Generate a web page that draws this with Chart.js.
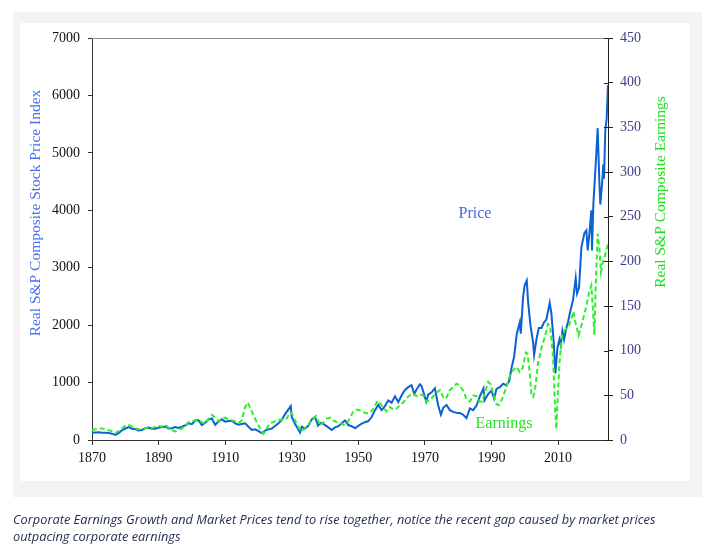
<!DOCTYPE html>
<html lang="en">
<head>
  <meta charset="UTF-8">
  <title>Real S&amp;P Composite: Price vs Earnings</title>
  <style>
    body {
      margin: 0;
      background: #ffffff;
      width: 714px;
      height: 553px;
      position: relative;
      overflow: hidden;
    }
    .panel {
      position: absolute;
      left: 13px;
      top: 12px;
      width: 689px;
      height: 485px;
      background: #f3f3f3;
    }
    .inner {
      position: absolute;
      left: 20px;
      top: 23px;
      width: 670px;
      height: 458px;
      background: #ffffff;
    }
    #chart {
      position: absolute;
      left: 0;
      top: 0;
    }
    .caption {
      position: absolute;
      left: 13px;
      top: 511px;
      width: 700px;
      font-family: "Open Sans", sans-serif;
      font-style: italic;
      font-size: 12.8px;
      line-height: 17px;
      color: #1e2b4c;
    }
  </style>
</head>
<body>
  <div class="panel"></div>
  <div class="inner"></div>
  <canvas id="chart" width="714" height="553"></canvas>
  <div class="caption">Corporate Earnings Growth and Market Prices tend to rise together, notice the recent gap caused by market prices<br>outpacing corporate earnings</div>

  <script src="https://cdn.jsdelivr.net/npm/chart.js"></script>
  <script>
    // Real S&P Composite Stock Price Index (left axis)
    const priceYears = [
      1870, 1871, 1872, 1873, 1874, 1875, 1876, 1877, 1878, 1879,
      1880, 1881, 1882, 1883, 1884, 1885, 1886, 1887, 1888, 1889,
      1890, 1891, 1892, 1893, 1894, 1895, 1896, 1897, 1898, 1899,
      1900, 1901, 1902, 1903, 1904, 1905, 1906, 1907, 1908, 1909,
      1910, 1911, 1912, 1913, 1914, 1915, 1916, 1917, 1918, 1919,
      1920, 1921, 1922, 1923, 1924, 1925, 1926, 1927, 1928, 1929.7,
      1930, 1931, 1932.5, 1933, 1934, 1935, 1936, 1937, 1937.9, 1938.5,
      1939, 1940, 1941, 1942, 1943, 1944, 1945, 1946, 1947, 1948,
      1949, 1950, 1951, 1952, 1953, 1954, 1955, 1956, 1957, 1958,
      1959, 1960, 1961, 1962, 1963, 1964, 1965, 1966, 1966.8, 1967.5,
      1968.5, 1969, 1970.4, 1971, 1972, 1973, 1974, 1974.8, 1975.5, 1976.5,
      1977.5, 1978.5, 1979.5, 1980.5, 1981.5, 1982.5, 1983.5, 1984.5, 1985.5, 1986.5,
      1987.6, 1987.9, 1989, 1990, 1990.8, 1991.5, 1992.5, 1993.5, 1994.5, 1995.3,
      1996, 1996.8, 1997.6, 1998.5, 1998.8, 1999.5, 2000, 2000.6, 2001, 2001.7,
      2002.5, 2002.8, 2003.5, 2004.2, 2005, 2005.8, 2006.5, 2007.5, 2008, 2008.7,
      2009.2, 2009.8, 2010.4, 2010.8, 2011.3, 2011.8, 2012.5, 2013, 2013.7, 2014.5,
      2015.3, 2015.7, 2016.3, 2017, 2017.9, 2018.5, 2018.9, 2019.5, 2020, 2020.2,
      2020.6, 2021, 2021.5, 2021.9, 2022.4, 2022.7, 2023.2, 2023.6, 2023.8, 2024.2,
      2024.6, 2025
    ];
    const priceValues = [
      125, 130, 135, 128, 125, 120, 110, 87, 120, 170,
      200, 225, 195, 190, 165, 175, 205, 215, 195, 195,
      215, 225, 235, 200, 205, 225, 210, 230, 255, 290,
      275, 340, 345, 260, 300, 360, 375, 265, 320, 360,
      320, 330, 335, 290, 265, 280, 290, 230, 175, 185,
      155, 120, 165, 185, 200, 245, 290, 350, 450, 590,
      400, 280, 130, 230, 200, 250, 360, 400, 250, 290,
      300, 260, 220, 175, 220, 240, 290, 340, 260, 240,
      205, 245, 285, 310, 330, 400, 520, 610, 520, 590,
      690, 650, 760, 660, 780, 870, 920, 955, 800, 880,
      970, 940, 670, 790, 830, 900, 600, 440, 560, 610,
      520, 490, 475, 470, 440, 380, 550, 520, 600, 760,
      900, 690, 800, 860, 720, 890, 920, 980, 950, 1020,
      1250, 1450, 1850, 2050, 1850, 2500, 2700, 2780, 2400, 2000,
      1700, 1480, 1750, 1950, 1950, 2050, 2100, 2390, 2200, 1700,
      1160, 1600, 1750, 1650, 1900, 1750, 1950, 2060, 2250, 2440,
      2820, 2550, 2650, 3350, 3600, 3650, 3300, 3650, 4000, 3300,
      4100, 4500, 5000, 5430, 4500, 4100, 4450, 4800, 4550, 5400,
      5600, 6180
    ];

    // Real S&P Composite Earnings (right axis)
    const earnYears = [
      1870, 1871, 1872, 1873, 1874, 1875, 1876, 1877, 1878, 1879,
      1880, 1881, 1882, 1883, 1884, 1885, 1886, 1887, 1888, 1889,
      1890, 1891, 1892, 1893, 1894, 1895, 1896, 1897, 1898, 1899,
      1900, 1901, 1902, 1903, 1904, 1905, 1906, 1907, 1908, 1909,
      1910, 1911, 1912, 1913, 1914, 1915, 1916, 1916.8, 1917.5, 1918.5,
      1919.5, 1920.5, 1921.5, 1922.5, 1923.5, 1924.5, 1925.5, 1926.5, 1927.5, 1928.5,
      1929.5, 1930, 1931, 1932, 1933, 1934, 1935, 1936, 1937.3, 1938.5,
      1939.5, 1940.5, 1941.5, 1942.5, 1943.5, 1944.5, 1945.5, 1946.5, 1947.5, 1948.5,
      1949.5, 1950.5, 1951.5, 1952.5, 1953.5, 1954.5, 1955.8, 1956.8, 1957.8, 1958.5,
      1959.5, 1960.5, 1961.5, 1962.5, 1963.5, 1964.5, 1965.5, 1966.5, 1967.5, 1968.5,
      1969.5, 1970.5, 1971.5, 1972.5, 1973.5, 1974.5, 1975.5, 1976.3, 1977.5, 1978.5,
      1979.5, 1980.5, 1981.5, 1982.5, 1983.5, 1984.5, 1985.5, 1986.5, 1987.2, 1988.2,
      1989, 1989.8, 1990.5, 1991.5, 1992.2, 1993.2, 1994.2, 1995.5, 1996.5, 1997.5,
      1998.5, 1999.3, 2000.3, 2000.8, 2001.5, 2002, 2002.5, 2003, 2004, 2005,
      2006, 2007, 2007.6, 2008.5, 2009.1, 2009.5, 2009.9, 2010.5, 2011.3, 2012,
      2013, 2014, 2014.6, 2015.3, 2016.2, 2016.8, 2017.5, 2018.5, 2019.3, 2020,
      2020.5, 2020.9, 2021.3, 2021.9, 2022.4, 2022.9, 2023.5, 2024, 2024.5, 2025
    ];
    const earnValues = [
      11, 12, 13, 13, 12, 11, 10, 8, 10, 13,
      16, 17, 15, 13, 12, 12, 13, 14, 13, 15,
      16, 15, 17, 14, 11, 9.5, 11, 13, 16, 20,
      21, 22, 22, 20, 18, 24, 28, 25, 21, 24,
      25, 23, 22, 21, 19, 22, 37, 42, 36, 28,
      20, 13, 7, 13, 19, 20, 22, 23, 22, 24,
      31, 30, 22, 14, 9.5, 13, 17, 23, 27, 16,
      20, 24, 25, 22, 20, 19, 17, 18, 25, 32,
      34, 33, 31, 30, 30, 35, 44, 40, 35, 32,
      37, 34, 35, 39, 42, 47, 50, 52, 49, 51,
      50, 43, 44, 49, 53, 56, 48, 46, 56, 59,
      63, 61, 55, 46, 43, 50, 49, 43, 43, 55,
      65, 62, 52, 40, 39, 46, 56, 72, 78, 82,
      76, 80, 98, 97, 75, 50, 48, 54, 86, 103,
      115, 130, 128, 93, 35, 12, 50, 90, 120, 123,
      126, 135, 144, 130, 117, 125, 135, 150, 165, 173,
      145, 118, 170, 231, 215, 188, 200, 205, 212, 220
    ];

    const xTicks = [1870, 1890, 1910, 1930, 1950, 1970, 1990, 2010];
    const leftTitle = 'Real S&P Composite Stock Price Index';
    const rightTitle = 'Real S&P Composite Earnings';

    const serif = '"Liberation Serif", "Times New Roman", serif';
    const plain = v => String(v);

    // titles, labels, top border and inner ticks of the right axis
    const extras = {
      id: 'extras',
      afterDraw(chart) {
        const { ctx, chartArea: a, scales } = chart;
        ctx.save();
        ctx.lineWidth = 1;
        ctx.strokeStyle = '#8c8c8c';
        ctx.beginPath();
        ctx.moveTo(a.left, a.top + 0.5);
        ctx.lineTo(a.right, a.top + 0.5);
        ctx.stroke();

        ctx.strokeStyle = '#222';
        scales.y2.ticks.forEach(t => {
          const y = Math.round(scales.y2.getPixelForValue(t.value)) + 0.5;
          ctx.beginPath();
          ctx.moveTo(a.right - 4, y);
          ctx.lineTo(a.right, y);
          ctx.stroke();
        });

        ctx.textAlign = 'center';
        ctx.textBaseline = 'middle';
        ctx.font = '15.5px ' + serif;

        ctx.save();
        ctx.fillStyle = '#4a72f0';
        ctx.translate(36, 213);
        ctx.rotate(-Math.PI / 2);
        ctx.fillText(leftTitle, 0, 0);
        ctx.restore();

        ctx.save();
        ctx.fillStyle = '#22dd22';
        ctx.translate(661, 192);
        ctx.rotate(-Math.PI / 2);
        ctx.fillText(rightTitle, 0, 0);
        ctx.restore();

        ctx.font = '16px ' + serif;
        ctx.fillStyle = '#4169e8';
        ctx.fillText('Price', 475, 214);
        ctx.fillStyle = '#22e622';
        ctx.fillText('Earnings', 504, 424);
        ctx.restore();
      }
    };

    new Chart(document.getElementById('chart'), {
      type: 'line',
      data: {
        datasets: [
          {
            label: 'Earnings',
            data: earnYears.map((x, i) => ({ x: x, y: earnValues[i] })),
            yAxisID: 'y2',
            borderColor: '#2cf02c',
            borderWidth: 2,
            borderDash: [5, 3],
            pointRadius: 0,
            tension: 0
          },
          {
            label: 'Price',
            data: priceYears.map((x, i) => ({ x: x, y: priceValues[i] })),
            yAxisID: 'y',
            borderColor: '#0c62d2',
            borderWidth: 2,
            pointRadius: 0,
            tension: 0
          }
        ]
      },
      options: {
        responsive: false,
        animation: false,
        layout: { padding: { top: 38, left: 0, right: 0, bottom: 0 } },
        plugins: {
          legend: { display: false },
          tooltip: { enabled: false }
        },
        scales: {
          x: {
            type: 'linear',
            min: 1870,
            max: 2025,
            afterBuildTicks: s => { s.ticks = xTicks.map(v => ({ value: v })); },
            afterFit: s => { s.height = 113; },
            grid: { drawOnChartArea: false, tickLength: 5, color: '#333' },
            border: { color: '#333', width: 1 },
            ticks: {
              color: '#111',
              font: { family: serif, size: 14 },
              padding: 5,
              maxRotation: 0,
              callback: plain
            }
          },
          y: {
            position: 'left',
            min: 0,
            max: 7000,
            afterFit: s => { s.width = 92; },
            grid: { drawOnChartArea: false, tickLength: 4, color: '#333' },
            border: { color: '#333', width: 1 },
            ticks: {
              stepSize: 1000,
              color: '#111',
              font: { family: serif, size: 14 },
              padding: 8,
              callback: plain
            }
          },
          y2: {
            position: 'right',
            min: 0,
            max: 450,
            afterFit: s => { s.width = 106; },
            grid: { drawOnChartArea: false, tickLength: 5, color: '#222' },
            border: { color: '#222', width: 1 },
            ticks: {
              stepSize: 50,
              color: '#3c3c8e',
              font: { family: serif, size: 14 },
              padding: 7,
              callback: plain
            }
          }
        }
      },
      plugins: [extras]
    });
  </script>
</body>
</html>
